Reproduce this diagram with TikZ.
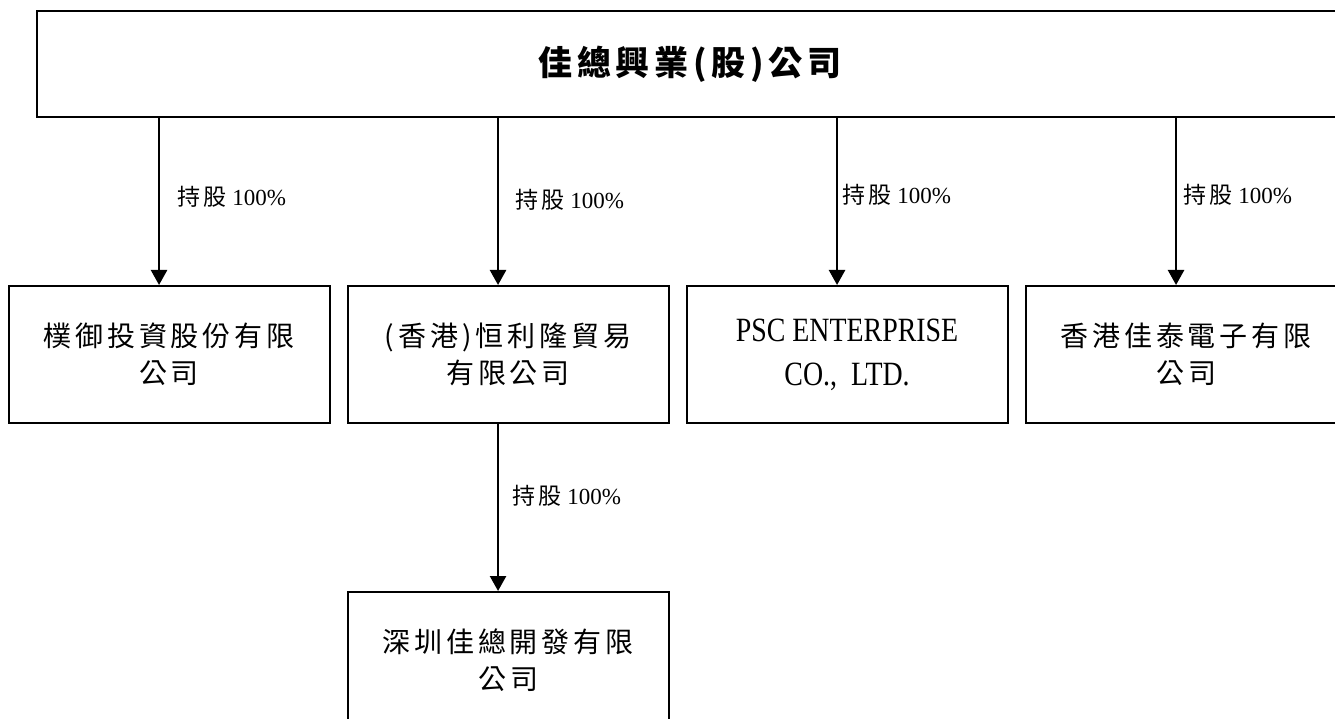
\documentclass[tikz,border=0pt]{standalone}
\usepackage{fontspec}
\setmainfont{Liberation Serif}
\newfontfamily\cjk[LetterSpace=14]{Noto Sans CJK TC}
\newfontfamily\narrowserif[FakeStretch=0.82]{Liberation Serif}
\usetikzlibrary{arrows.meta}

\begin{document}
\begin{tikzpicture}[
			x=1pt, y=1pt,
			level 1/.style={growth parent anchor=257.24, level distance=236.5pt, sibling distance=339pt},
			level 2/.style={growth parent anchor=center, level distance=306pt},
			box/.style={draw, line width=2pt, minimum width=321pt, minimum height=137pt, align=center, inner sep=0pt, font=\cjk\fontsize{28}{37}\selectfont},
			share/.style={right, inner sep=4pt, font=\fontsize{23}{26}\selectfont},
			edge from parent/.style={draw, line width=2.5pt, -{Triangle[length=15pt,width=16pt]}},
			edge from parent path={([xshift=-10pt]\tikzchildnode.north |- \tikzparentnode.south) -- ([xshift=-10pt]\tikzchildnode.north)}
		]
		\useasboundingbox (0,0) rectangle (1335,-719);
		\node[box, minimum width=1306pt, minimum height=106pt, font=\cjk\fontsize{34}{40}\selectfont\bfseries] (grp) at (690,-64) {佳總興業(股)公司}
		child {
				node[box] (pu) {樸御投資股份有限\\公司}
				edge from parent node[share, pos=0.47, xshift=13pt] {{\cjk 持股} 100\%}
			}
		child {
				node[box] (hl) {(香港)恒利隆貿易\\有限公司}
				child {
						node[box] (sz) {深圳佳總開發有限\\公司}
						edge from parent node[share, pos=0.43, xshift=9pt] {{\cjk 持股} 100\%}
					}
				edge from parent node[share, pos=0.49, xshift=12pt] {{\cjk 持股} 100\%}
			}
		child {
				node[box, font=\narrowserif\fontsize{34}{44}\selectfont] (psc) {PSC ENTERPRISE\\CO.,\ \ LTD.}
				edge from parent node[share, pos=0.46] {{\cjk 持股} 100\%}
			}
		child {
				node[box] (jt) {香港佳泰電子有限\\公司}
				edge from parent node[share, pos=0.46, xshift=2pt] {{\cjk 持股} 100\%}
			};
	\end{tikzpicture}
\end{document}
